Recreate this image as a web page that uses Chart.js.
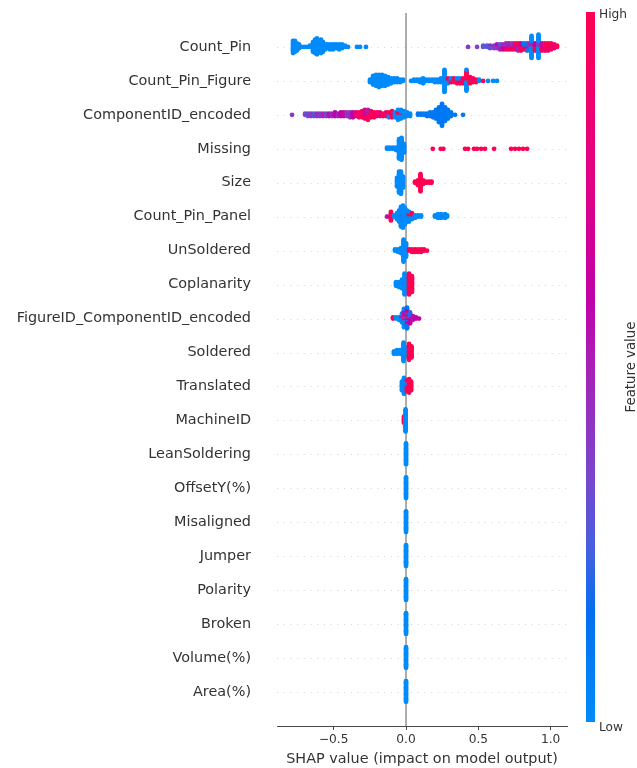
<!DOCTYPE html>
<html>
<head>
<meta charset="utf-8">
<script src="https://cdn.jsdelivr.net/npm/chart.js@4"></script>
<style>
  body { margin: 0; background: #fff; }
  canvas { display: block; }
</style>
</head>
<body>
<canvas id="chart" width="637" height="768"></canvas>
<script>
// Feature names, top row first
const featureNames = ['Count_Pin', 'Count_Pin_Figure', 'ComponentID_encoded', 'Missing', 'Size',
    'Count_Pin_Panel', 'UnSoldered', 'Coplanarity', 'FigureID_ComponentID_encoded', 'Soldered',
    'Translated', 'MachineID', 'LeanSoldering', 'OffsetY(%)', 'Misaligned', 'Jumper', 'Polarity',
    'Broken', 'Volume(%)', 'Area(%)'];

// Each entry: [SHAP value, dots piled up at that value, feature value 0 = low .. 1 = high]
const countPin = [
    [-0.781, 11, 0], [-0.768, 10, 0], [-0.754, 7, 0], [-0.740, 4, 0], [-0.726, 1, 0], [-0.705, 1, 0],
    [-0.685, 1, 0], [-0.664, 2, 0], [-0.643, 9, 0], [-0.629, 12, 0], [-0.616, 14, 0], [-0.602, 10, 0],
    [-0.588, 12, 0], [-0.574, 9, 0], [-0.560, 5, 0], [-0.546, 4, 0], [-0.526, 5, 0], [-0.505, 5, 0],
    [-0.484, 4, 0], [-0.463, 5, 0], [-0.443, 4, 0], [-0.422, 2, 0], [-0.401, 1, 0], [-0.339, 1, 0],
    [-0.318, 1, 0], [-0.277, 1, 0],
    [0.429, 1, 0.4], [0.491, 1, 0.35], [0.533, 2, 0.3], [0.560, 2, 0.25], [0.581, 2, 0.3], [0.581, 1, 0.45],
    [0.609, 3, 0.4], [0.629, 2, 0.35], [0.629, 2, 0.55], [0.650, 3, 0.5], [0.650, 2, 0.3], [0.671, 3, 0.65],
    [0.671, 2, 0.45], [0.692, 3, 0.8], [0.692, 3, 0.45], [0.712, 3, 1], [0.712, 3, 0.5], [0.733, 3, 0.9],
    [0.733, 3, 0.4], [0.754, 4, 1], [0.754, 2, 0.55], [0.775, 4, 0.5], [0.775, 3, 1], [0.795, 4, 0.95],
    [0.795, 3, 0.6], [0.816, 3, 1], [0.816, 3, 0.1], [0.837, 3, 0.85], [0.837, 4, 0.2], [0.858, 4, 0.1],
    [0.858, 3, 0.5], [0.868, 15, 0], [0.868, 4, 0.45], [0.892, 4, 1], [0.892, 3, 0.6], [0.916, 16, 0],
    [0.916, 4, 0.4], [0.940, 4, 0.9], [0.940, 3, 0.55], [0.961, 7, 0.95], [0.982, 4, 0.8], [0.982, 3, 1],
    [1.003, 6, 1], [1.024, 4, 0.85], [1.044, 2, 1]
];
const countPinFigure = [
    [-0.249, 3, 0], [-0.228, 8, 0], [-0.207, 10, 0], [-0.187, 11, 0], [-0.166, 10, 0], [-0.145, 9, 0],
    [-0.124, 7, 0], [-0.104, 5, 0], [-0.083, 4, 0], [-0.062, 4, 0], [-0.041, 3, 0], [-0.021, 2, 0],
    [0.035, 1, 0], [0.055, 2, 0], [0.076, 2, 0], [0.097, 3, 0], [0.118, 5, 0], [0.138, 2, 0], [0.159, 2, 0],
    [0.180, 2, 0], [0.200, 3, 0], [0.221, 3, 0], [0.242, 4, 0], [0.266, 19, 0],
    [0.290, 3, 0], [0.290, 2, 1], [0.311, 2, 1], [0.311, 2, 0], [0.332, 4, 1], [0.353, 3, 1], [0.353, 2, 0],
    [0.373, 3, 1], [0.373, 2, 0], [0.394, 4, 1], [0.394, 1, 0.6], [0.418, 10, 0], [0.418, 8, 1],
    [0.443, 5, 1], [0.443, 1, 0], [0.463, 3, 1], [0.463, 1, 0], [0.484, 3, 1], [0.505, 2, 0], [0.533, 1, 1],
    [0.567, 1, 0], [0.602, 1, 0], [0.629, 1, 0]
];
const componentId = [
    [-0.788, 1, 0.4], [-0.698, 2, 0.3], [-0.678, 3, 0.35], [-0.657, 3, 0.4], [-0.636, 3, 0.3], [-0.615, 3, 0.45],
    [-0.595, 3, 0.4], [-0.574, 3, 0.5], [-0.553, 3, 0.35], [-0.533, 3, 0.55], [-0.512, 3, 0.45], [-0.491, 4, 0.6],
    [-0.470, 3, 0.5], [-0.450, 4, 0.6], [-0.429, 4, 0.7], [-0.408, 4, 0.4], [-0.387, 5, 0.45], [-0.367, 5, 0.6],
    [-0.346, 4, 0.8], [-0.325, 5, 0.9], [-0.304, 6, 1], [-0.284, 5, 0.85], [-0.284, 3, 0.6], [-0.263, 5, 1],
    [-0.263, 4, 0.5], [-0.242, 6, 1], [-0.221, 5, 0.9], [-0.201, 4, 1], [-0.180, 4, 0.8], [-0.159, 3, 1],
    [-0.138, 4, 0.9], [-0.118, 3, 0], [-0.118, 2, 1], [-0.097, 6, 1], [-0.076, 5, 0], [-0.055, 6, 0],
    [-0.055, 3, 1], [-0.035, 6, 0], [-0.035, 2, 1], [-0.014, 6, 0], [0.007, 3, 0], [0.007, 1, 1], [0.028, 3, 0],
    [0.083, 2, 0.1], [0.104, 2, 0.1], [0.124, 2, 0.1], [0.145, 3, 0.1], [0.166, 4, 0.1], [0.187, 5, 0.1],
    [0.207, 8, 0.1], [0.228, 13, 0.12], [0.249, 19, 0.1], [0.270, 12, 0.1], [0.290, 8, 0.1], [0.311, 4, 0.1],
    [0.339, 1, 0.1], [0.394, 1, 0.1]
];
const missing = [
    [-0.131, 2, 0], [-0.111, 2, 0], [-0.090, 2, 0], [-0.069, 3, 0], [-0.048, 17, 0], [-0.031, 19, 0], [-0.014, 8, 0],
    [0.185, 1, 1], [0.240, 1, 1], [0.258, 1, 1], [0.408, 1, 1], [0.429, 1, 1], [0.470, 1, 1], [0.491, 1, 1],
    [0.519, 1, 1], [0.546, 1, 1], [0.609, 1, 1], [0.726, 1, 1], [0.754, 1, 1], [0.781, 1, 1], [0.809, 1, 1],
    [0.837, 1, 1]
];
const size = [
    [-0.062, 8, 0], [-0.048, 18, 0], [-0.035, 19, 0], [-0.021, 10, 0],
    [0.062, 2, 1], [0.083, 5, 1], [0.100, 15, 1], [0.118, 4, 1], [0.138, 2, 1], [0.159, 2, 1], [0.176, 2, 1]
];
const countPinPanel = [
    [-0.131, 1, 0.55], [-0.104, 8, 1], [-0.083, 2, 0], [-0.062, 6, 0], [-0.048, 10, 0], [-0.035, 17, 0],
    [-0.021, 18, 0], [-0.021, 1, 1], [-0.007, 14, 0], [0.007, 10, 0], [0.021, 6, 0], [0.021, 3, 1],
    [0.041, 3, 0], [0.041, 3, 1], [0.062, 3, 0], [0.083, 2, 0], [0.104, 2, 0],
    [0.200, 2, 0], [0.221, 4, 0], [0.242, 4, 0], [0.270, 4, 0], [0.284, 2, 0]
];
const unSoldered = [
    [-0.076, 2, 0], [-0.055, 3, 0], [-0.035, 5, 0], [-0.017, 19, 0], [0.000, 12, 0],
    [0.021, 2, 1], [0.041, 3, 1], [0.062, 3, 1], [0.083, 3, 1], [0.104, 3, 1], [0.124, 2, 1], [0.145, 1, 1]
];
const coplanarity = [
    [-0.069, 4, 0], [-0.048, 5, 0], [-0.028, 8, 0], [-0.010, 18, 0], [0.021, 18, 1], [0.041, 14, 1]
];
const figureComponentId = [
    [-0.090, 2, 1], [-0.069, 2, 0], [-0.048, 3, 0], [-0.028, 5, 0], [-0.028, 3, 0.5], [-0.014, 8, 0],
    [-0.014, 6, 0.55], [-0.014, 2, 0.9], [0.007, 8, 0.1], [0.007, 6, 0.6], [0.007, 4, 0.85], [0.028, 5, 0.6],
    [0.028, 5, 0.2], [0.048, 4, 0.55], [0.069, 2, 0.6], [0.090, 1, 0.65]
];
const soldered = [
    [-0.083, 3, 0], [-0.062, 4, 0], [-0.041, 4, 0], [-0.017, 16, 0], [0.000, 8, 0], [0.021, 14, 1], [0.038, 10, 1]
];
const translated = [
    [-0.028, 8, 0], [-0.014, 14, 0], [0.007, 6, 1], [0.007, 4, 0], [0.021, 12, 1], [0.035, 8, 1]
];
const machineId = [[-0.014, 6, 1], [-0.003, 19, 0]];
const leanSoldering = [[0, 18, 0]];
const offsetY = [[0, 18, 0]];
const misaligned = [[0, 18, 0]];
const jumper = [[0, 18, 0]];
const polarity = [[0, 18, 0]];
const broken = [[0, 18, 0]];
const volume = [[0, 18, 0]];
const area = [[0, 18, 0]];

const featureRows = [countPin, countPinFigure, componentId, missing, size, countPinPanel, unSoldered,
    coplanarity, figureComponentId, soldered, translated, machineId, leanSoldering, offsetY, misaligned,
    jumper, polarity, broken, volume, area];

const xTicks = [-0.5, 0.0, 0.5, 1.0];

// shap red-blue colour map
const colorStops = [
    [0, [0, 139, 251]], [0.15, [0, 112, 240]], [0.25, [74, 93, 224]], [0.35, [122, 69, 204]],
    [0.5, [168, 32, 184]], [0.6, [192, 0, 168]], [0.75, [224, 0, 136]], [1, [255, 0, 82]]
];

function featureColor(v) {
    for (let i = 1; i < colorStops.length; i++) {
        const [p1, c1] = colorStops[i];
        const [p0, c0] = colorStops[i - 1];
        if (v <= p1) {
            const t = (v - p0) / (p1 - p0);
            const c = c0.map((a, k) => Math.round(a + (c1[k] - a) * t));
            return `rgb(${c[0]},${c[1]},${c[2]})`;
        }
    }
    return 'rgb(255,0,82)';
}

// Beeswarm: dots sharing a value are piled up around the row centre
const STEP = 0.036;
const points = [];
const pointColors = [];
featureRows.forEach((row, i) => {
    const y0 = featureNames.length - 1 - i;
    const bins = new Map();
    row.forEach(([x, n, v]) => {
        if (!bins.has(x)) bins.set(x, []);
        bins.get(x).push({ n, v });
    });
    bins.forEach((groups, x) => {
        const vals = [];
        let more = true;
        for (let k = 0; more; k++) {
            more = false;
            groups.forEach(g => {
                if (k < g.n) { vals.push(g.v); more = true; }
            });
        }
        vals.forEach((v, k) => {
            const off = Math.ceil(k / 2) * (k % 2 ? 1 : -1) * STEP;
            points.push({ x: x, y: y0 + off });
            pointColors.push(featureColor(v));
        });
    });
});

const FONT = 'DejaVu Sans';

// dotted row lines and the zero line, behind the dots
const guideLines = {
    id: 'guideLines',
    beforeDatasetsDraw(chart) {
        const { ctx, chartArea, scales: { x, y } } = chart;
        ctx.save();
        ctx.strokeStyle = '#cccccc';
        ctx.lineWidth = 0.8;
        ctx.setLineDash([1.1, 5.6]);
        featureNames.forEach((n, i) => {
            const py = Math.round(y.getPixelForValue(featureNames.length - 1 - i)) + 0.5;
            ctx.beginPath();
            ctx.moveTo(chartArea.left, py);
            ctx.lineTo(chartArea.right, py);
            ctx.stroke();
        });
        ctx.setLineDash([]);
        ctx.strokeStyle = '#999999';
        ctx.lineWidth = 1.6;
        const px = x.getPixelForValue(0);
        ctx.beginPath();
        ctx.moveTo(px, chartArea.top);
        ctx.lineTo(px, chartArea.bottom);
        ctx.stroke();
        ctx.restore();
    }
};

// colour bar on the right
const colorBar = {
    id: 'colorBar',
    afterDraw(chart) {
        const { ctx, chartArea } = chart;
        const left = 586, width = 9;
        const top = chartArea.top - 1, bottom = chartArea.bottom - 4;
        const grad = ctx.createLinearGradient(0, bottom, 0, top);
        colorStops.forEach(([p, c]) => grad.addColorStop(p, `rgb(${c[0]},${c[1]},${c[2]})`));
        ctx.save();
        ctx.fillStyle = grad;
        ctx.fillRect(left, top, width, bottom - top);
        ctx.fillStyle = '#333333';
        ctx.font = `12.2px "${FONT}"`;
        ctx.textBaseline = 'middle';
        ctx.textAlign = 'left';
        ctx.fillText('High', left + width + 4, top + 3);
        ctx.fillText('Low', left + width + 4, bottom + 6);
        ctx.font = `13.3px "${FONT}"`;
        ctx.translate(632, (top + bottom) / 2);
        ctx.rotate(-Math.PI / 2);
        ctx.textAlign = 'center';
        ctx.fillText('Feature value', 0, 0);
        ctx.restore();
    }
};

new Chart(document.getElementById('chart'), {
    type: 'scatter',
    data: {
        datasets: [{
            data: points,
            pointBackgroundColor: pointColors,
            pointBorderWidth: 0,
            pointRadius: 2.4,
            pointHoverRadius: 2.4
        }]
    },
    options: {
        responsive: false,
        animation: false,
        layout: { padding: { top: 13, right: 70, left: 0, bottom: 0 } },
        plugins: { legend: { display: false }, tooltip: { enabled: false } },
        scales: {
            x: {
                type: 'linear',
                min: -0.892,
                max: 1.113,
                afterBuildTicks: s => { s.ticks = xTicks.map(v => ({ value: v })); },
                afterFit: s => { s.height = 42; s.paddingLeft = 0; s.paddingRight = 0; },
                ticks: {
                    color: '#333333',
                    font: { family: FONT, size: 12.2 },
                    padding: 3,
                    callback: v => v.toFixed(1).replace('-', '\u2212')
                },
                grid: { drawOnChartArea: false, drawTicks: true, tickLength: 4, color: '#333333', lineWidth: 0.9 },
                border: { display: true, color: '#333333', width: 0.9 },
                title: {
                    display: true,
                    text: 'SHAP value (impact on model output)',
                    color: '#333333',
                    font: { family: FONT, size: 14.4 },
                    padding: { top: 0, bottom: 0 }
                }
            },
            y: {
                type: 'linear',
                min: -1,
                max: 20,
                afterBuildTicks: s => { s.ticks = featureNames.map((n, i) => ({ value: featureNames.length - 1 - i })); },
                afterFit: s => { s.width = 277; s.paddingTop = 0; s.paddingBottom = 0; },
                ticks: {
                    color: '#333333',
                    font: { family: FONT, size: 14.4 },
                    padding: 26,
                    callback: v => featureNames[featureNames.length - 1 - v]
                },
                grid: { display: false, drawTicks: false },
                border: { display: false }
            }
        }
    },
    plugins: [guideLines, colorBar]
});
</script>
</body>
</html>
